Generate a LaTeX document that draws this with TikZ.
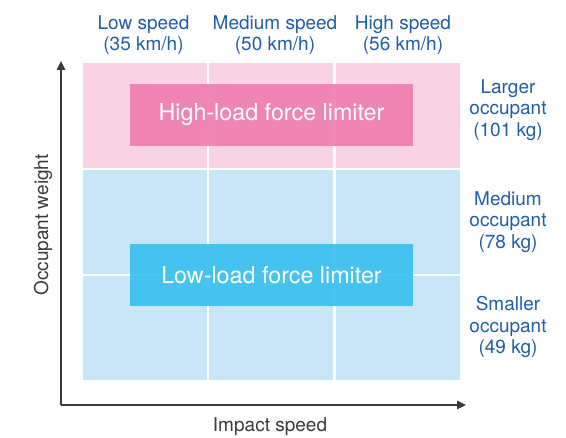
\documentclass[tikz,border=0pt]{standalone}
\usepackage{fontspec}
\setmainfont{TeX Gyre Heros}
\usetikzlibrary{positioning,arrows.meta}
\definecolor{pinkcell}{HTML}{F9D3E4}
\definecolor{pinkbox}{HTML}{EE80B0}
\definecolor{bluecell}{HTML}{C9E6F7}
\definecolor{bluebox}{HTML}{3DC0EF}
\definecolor{labelblue}{HTML}{1F5EA8}
\definecolor{axisgray}{HTML}{3A3A3A}

\begin{document}
\begin{tikzpicture}[x=1pt,y=-1pt,
  head_label/.style={text=labelblue,align=center,font=\fontsize{19}{21.5}\selectfont},
  axis_label/.style={text=axisgray,font=\fontsize{19}{22}\selectfont},
  limiter/.style={minimum width=283pt,minimum height=62pt,inner sep=0pt,text=white,font=\fontsize{23.3}{26}\selectfont},
  axis/.style={draw=axisgray,line width=1.5pt,-{Triangle[length=9pt,width=8.5pt]}}
  ]
  \useasboundingbox (0,0) rectangle (566,438);

  % cells
  \fill[pinkcell] (83,63) rectangle (460,168);
  \fill[bluecell] (83,170) rectangle (460,380);
  \draw[white,line width=2.5pt] (208,63) -- (208,380);
  \draw[white,line width=2.5pt] (334.5,63) -- (334.5,380);
  \draw[white,line width=2.5pt] (83,275) -- (460,275);

  % limiters
  \node[limiter,fill=pinkbox,fill opacity=0.93,text opacity=1] (HighLoad) at (271.5,115) {High-load force limiter};
  \node[limiter,fill=bluebox,fill opacity=0.93,text opacity=1] (LowLoad) at (271.5,275.5) {Low-load force limiter};

  % speeds
  \node[head_label] (LowSpeed) at (143.5,35) {Low speed\\(35 km/h)};
  \node[head_label] (MedSpeed) at (275,35) {Medium speed\\(50 km/h)};
  \node[head_label] (HighSpeed) at (403,35) {High speed\\(56 km/h)};

  % occupants
  \node[head_label] (Larger) at (508,110) {Larger\\occupant\\(101 kg)};
  \node[head_label] (Medium) at (508,222) {Medium\\occupant\\(78 kg)};
  \node[head_label] (Smaller) at (508,327) {Smaller\\occupant\\(49 kg)};

  % axes
  \coordinate (Origin) at (61,405);
  \coordinate (YEnd) at (61,61);
  \coordinate (XEnd) at (466,405);
  \draw[axis] (Origin) -- (YEnd);
  \draw[axis] (Origin) -- (XEnd);
  \node[axis_label,rotate=90] (WeightLabel) at (43,225) {Occupant weight};
  \node[axis_label] (SpeedLabel) at (270,427) {Impact speed};
\end{tikzpicture}
\end{document}
